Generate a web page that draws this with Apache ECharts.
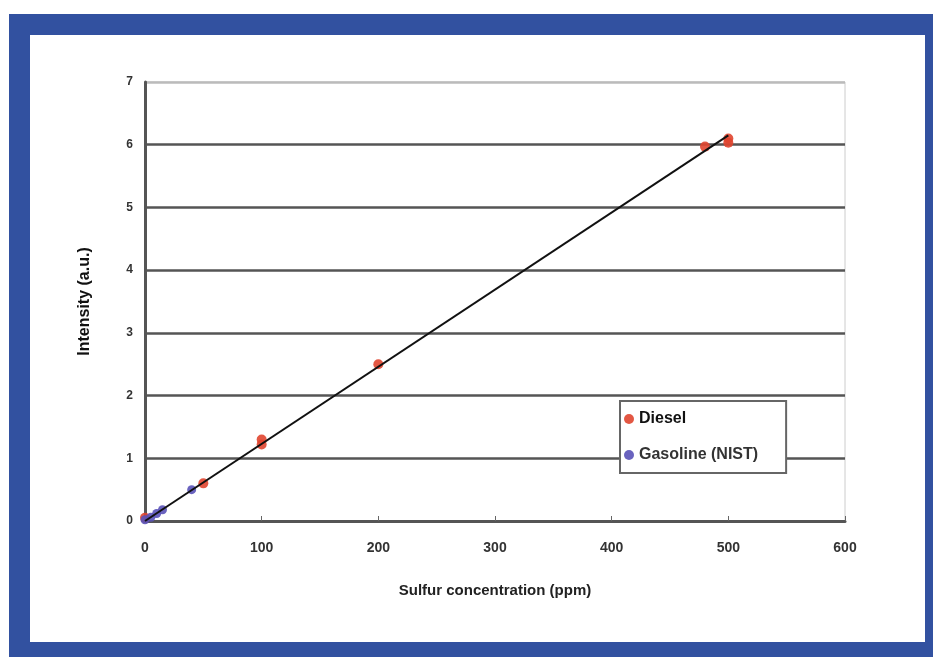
<!DOCTYPE html>
<html>
<head>
<meta charset="utf-8">
<script src="https://cdn.jsdelivr.net/npm/echarts@6/dist/echarts.min.js"></script>
<style>
  html, body { margin: 0; padding: 0; background: #fff; }
  #chart { width: 933px; height: 657px; }
</style>
</head>
<body>
<div id="chart"></div>
<script>
// values
const dieselPoints = [[0, 0.05], [50, 0.6], [100, 1.22], [100, 1.3], [200, 2.5], [480, 5.97], [500, 6.03], [500, 6.1]];
const gasolinePoints = [[0, 0.02], [5, 0.06], [10, 0.12], [15, 0.18], [40, 0.5]];
const trendLine = [[0, 0], [500, 6.15]];

const labelFont = 'Liberation Sans, Arial, sans-serif';

let chart = echarts.init(document.getElementById('chart'));
chart.setOption({
  animation: false,
  backgroundColor: '#fff',
  graphic: [
    { type: 'rect', z: -10, shape: { x: 9, y: 14, width: 924, height: 643 }, style: { fill: '#3251a0' } },
    { type: 'rect', z: -9, shape: { x: 30, y: 35, width: 895, height: 607 }, style: { fill: '#fff' } }
  ],
  grid: { left: 145, right: 88, top: 82, bottom: 136, show: true, borderColor: '#ccc', borderWidth: 1 },
  legend: {
    orient: 'vertical',
    left: 620, top: 401,
    padding: [10, 28, 10, 4],
    itemGap: 20,
    itemWidth: 10, itemHeight: 10,
    borderColor: '#666', borderWidth: 2,
    backgroundColor: '#fff',
    textStyle: { fontFamily: labelFont, fontWeight: 'bold', fontSize: 16, color: '#111' },
    data: [
      { name: 'Diesel', icon: 'circle' },
      { name: 'Gasoline (NIST)', icon: 'circle', textStyle: { color: '#333' } }
    ]
  },
  xAxis: {
    type: 'value', min: 0, max: 600, interval: 100,
    name: 'Sulfur concentration (ppm)', nameLocation: 'middle', nameGap: 62,
    nameTextStyle: { fontFamily: labelFont, fontWeight: 'bold', fontSize: 15, color: '#222' },
    axisLine: { lineStyle: { color: '#555', width: 3 } },
    axisTick: { show: true, inside: true, length: 5, lineStyle: { color: '#666' } },
    axisLabel: { fontFamily: labelFont, fontWeight: 'bold', fontSize: 14, color: '#333', margin: 20 },
    splitLine: { show: false }
  },
  yAxis: {
    type: 'value', min: 0, max: 7, interval: 1,
    name: 'Intensity (a.u.)', nameLocation: 'middle', nameGap: 52, nameRotate: 90,
    nameTextStyle: { fontFamily: labelFont, fontWeight: 'bold', fontSize: 16, color: '#111' },
    axisLine: { lineStyle: { color: '#555', width: 3 } },
    axisTick: { show: false },
    axisLabel: { fontFamily: labelFont, fontWeight: 'bold', fontSize: 12, color: '#333', margin: 12 },
    splitLine: {
      show: true,
      lineStyle: { color: ['#555', '#555', '#555', '#555', '#555', '#555', '#555', '#bbb'], width: 2.5 }
    }
  },
  series: [
    {
      name: 'Trend', type: 'line', data: trendLine, showSymbol: false,
      lineStyle: { color: '#111', width: 2 }, z: 3
    },
    {
      name: 'Diesel', type: 'scatter', data: dieselPoints, symbolSize: 10,
      itemStyle: { color: '#e0452f', opacity: 0.9 }, z: 2
    },
    {
      name: 'Gasoline (NIST)', type: 'scatter', data: gasolinePoints, symbolSize: 9,
      itemStyle: { color: '#5a52b8', opacity: 0.9 }, z: 2
    }
  ]
});
window.addEventListener('resize', () => { chart.resize(); });
</script>
</body>
</html>
